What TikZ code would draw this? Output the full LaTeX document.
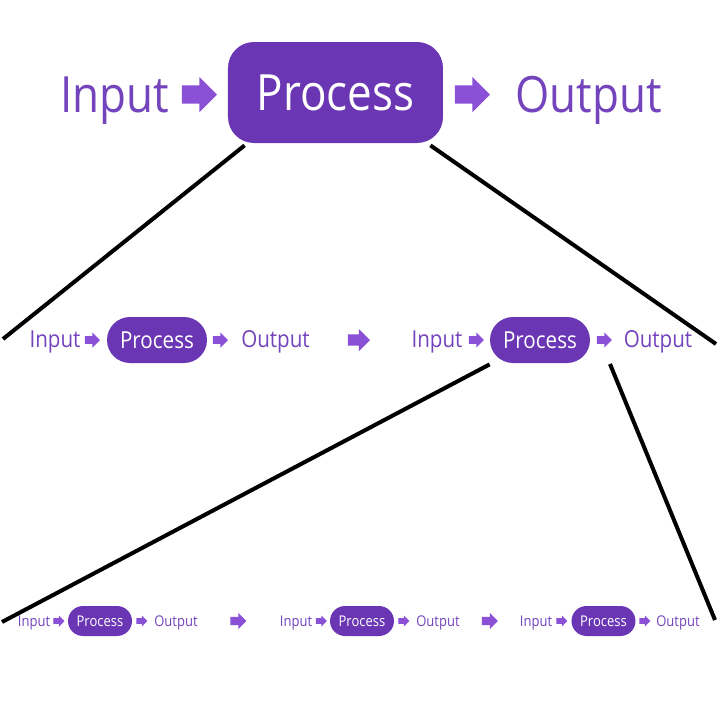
\documentclass[tikz,border=0pt]{standalone}
\usepackage{fontspec}
\setmainfont{Open Sans}[FakeStretch=0.88]
\usepackage{tikz}
\usetikzlibrary{positioning,calc}
\definecolor{flowBox}{HTML}{6A36B4}
\definecolor{flowText}{HTML}{7444BD}
\definecolor{flowArrow}{HTML}{8A50D6}
\tikzset{
  word/.style={
    text=flowText,
    inner sep=0pt,
    anchor=base
  },
  wordBig/.style={word, font=\fontsize{25}{30}\selectfont},
  wordMid/.style={word, font=\fontsize{11.7}{14}\selectfont},
  wordSmall/.style={word, font=\fontsize{7.4}{9}\selectfont},
  processBig/.style={
    rectangle,
    rounded corners=13pt,
    fill=flowBox,
    text=white,
    inner sep=0pt,
    minimum width=107.5pt,
    minimum height=50.5pt,
    font=\fontsize{25}{30}\selectfont
  },
  processMid/.style={
    rectangle,
    rounded corners=11.5pt,
    fill=flowBox,
    text=white,
    inner sep=0pt,
    minimum width=50pt,
    minimum height=23pt,
    font=\fontsize{11.7}{14}\selectfont
  },
  processSmall/.style={
    rectangle,
    rounded corners=7.5pt,
    fill=flowBox,
    text=white,
    inner sep=0pt,
    minimum width=32pt,
    minimum height=15pt,
    font=\fontsize{7.4}{9}\selectfont
  },
  zoomline/.style={
    line width=2pt,
    draw=black
  },
  blockarrow/.pic={
    \fill[flowArrow] (-0.5,-0.26) -- (0,-0.26) -- (0,-0.5) -- (0.5,0)
      -- (0,0.5) -- (0,0.26) -- (-0.5,0.26) -- cycle;
  }
}

\begin{document}
\begin{tikzpicture}[x=0.5pt,y=0.5pt]
  \fill[white] (0,0) rectangle (720,720);
  \useasboundingbox (0,0) rectangle (720,720);

  % top level
  \node[wordBig] (inTop) at (115,608) {Input};
  \pic[scale=35] at (199.5,625.5) {blockarrow};
  \node[processBig] (procTop) at (335.5,627.5) {Process};
  \pic[scale=35] at (472.5,625.5) {blockarrow};
  \node[wordBig] (outTop) at (588.5,608) {Output};

  % middle level
  \node[wordMid] (inA) at (55,372) {Input};
  \pic[scale=15] at (92.5,380) {blockarrow};
  \node[processMid] (procA) at (157,380) {Process};
  \pic[scale=15] at (220.5,380) {blockarrow};
  \node[wordMid] (outA) at (275.5,372) {Output};
  \pic[scale=22] at (359,380) {blockarrow};
  \node[wordMid] (inB) at (437,372) {Input};
  \pic[scale=15] at (476.5,380) {blockarrow};
  \node[processMid] (procB) at (540,380) {Process};
  \pic[scale=15] at (604.5,380) {blockarrow};
  \node[wordMid] (outB) at (658,372) {Output};

  % bottom level
  \node[wordSmall] (in1) at (34,94) {Input};
  \pic[scale=11] at (59,99) {blockarrow};
  \node[processSmall] (proc1) at (100,99) {Process};
  \pic[scale=11] at (142,99) {blockarrow};
  \node[wordSmall] (out1) at (176,94) {Output};
  \pic[scale=16] at (238.5,99) {blockarrow};
  \node[wordSmall] (in2) at (296,94) {Input};
  \pic[scale=11] at (321.5,99) {blockarrow};
  \node[processSmall] (proc2) at (362,99) {Process};
  \pic[scale=11] at (404,99) {blockarrow};
  \node[wordSmall] (out2) at (438,94) {Output};
  \pic[scale=16] at (490,99) {blockarrow};
  \node[wordSmall] (in3) at (536,94) {Input};
  \pic[scale=11] at (562,99) {blockarrow};
  \node[processSmall] (proc3) at (603.5,99) {Process};
  \pic[scale=11] at (645,99) {blockarrow};
  \node[wordSmall] (out3) at (678,94) {Output};

  % zoom lines
  \coordinate (leftEndA) at (3,381);
  \coordinate (rightEndA) at (716,376);
  \coordinate (splitB) at (610,356);
  \coordinate (leftEndB) at (2,98);
  \coordinate (rightEndB) at (715,100);
  \draw[zoomline] ([xshift=8.5pt,yshift=-1pt]procTop.south west) -- (leftEndA);
  \draw[zoomline] ([xshift=-6.5pt,yshift=-1pt]procTop.south east) -- (rightEndA);
  \draw[zoomline] ([yshift=-0.5pt]procB.south west) -- (leftEndB);
  \draw[zoomline] (splitB) -- (rightEndB);
\end{tikzpicture}
\end{document}
